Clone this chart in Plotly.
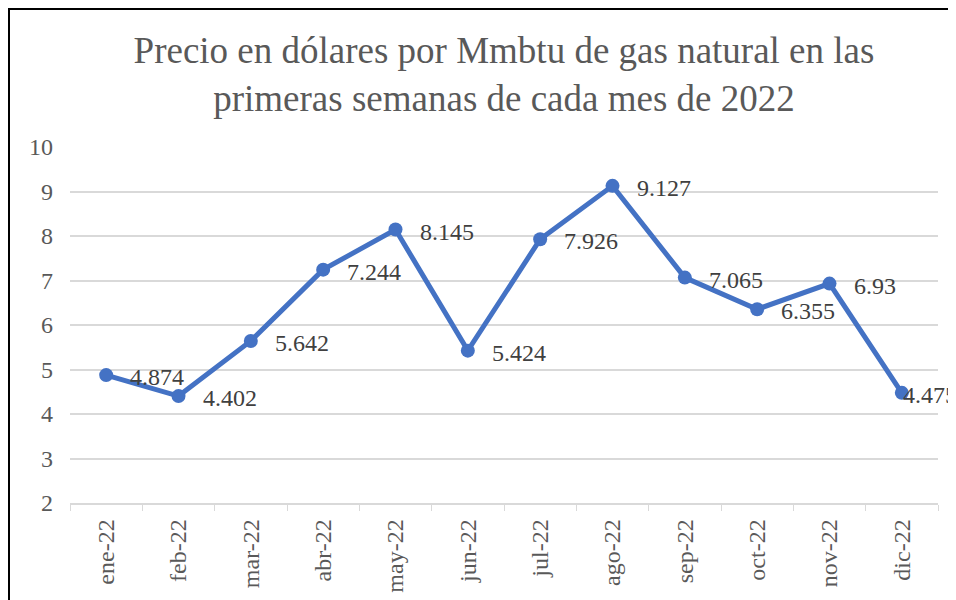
import plotly.graph_objects as go

categories = ["ene-22", "feb-22", "mar-22", "abr-22", "may-22", "jun-22",
              "jul-22", "ago-22", "sep-22", "oct-22", "nov-22", "dic-22"]
values = [4.874, 4.402, 5.642, 7.244, 8.145, 5.424, 7.926, 9.127, 7.065, 6.355, 6.93, 4.475]
labels = ["4.874", "4.402", "5.642", "7.244", "8.145", "5.424", "7.926", "9.127", "7.065", "6.355", "6.93", "4.475"]
y_ticks = [2, 3, 4, 5, 6, 7, 8, 9, 10]
title_text = "Precio en dólares por Mmbtu de gas natural en las<br>primeras semanas de cada mes de 2022"

FONT = "Liberation Serif, Times New Roman, serif"

fig = go.Figure()
fig.add_trace(go.Scatter(
    x=categories, y=values, mode="lines+markers",
    line=dict(color="#4472C4", width=5),
    marker=dict(color="#4472C4", size=14),
    cliponaxis=False, showlegend=False,
))

label_shift = [22] * 11 + [-1]
for c, v, t, s in zip(categories, values, labels, label_shift):
    fig.add_annotation(x=c, y=v, text=t, showarrow=False, xanchor="left", yanchor="middle",
                       xshift=s, yshift=-2,
                       font=dict(family=FONT, size=24, color="#404040"))

W, H = 956, 600
L, R, T, B = 62, 930, 139, 495

fig.update_layout(
    width=W, height=H,
    margin=dict(l=L, r=W - R, t=T, b=H - B),
    paper_bgcolor="white", plot_bgcolor="white",
    font=dict(family=FONT, color="#595959"),
    title=dict(text=title_text, x=0.5, xanchor="center", xref="paper",
               y=1 - 55 / H, yanchor="middle", yref="container",
               font=dict(family=FONT, size=37, color="#595959")),
    xaxis=dict(type="category", tickson="boundaries", ticks="outside", ticklen=6,
               tickcolor="#d9d9d9", showline=True, linecolor="#d9d9d9", linewidth=1.5,
               showgrid=False, tickangle=-90, ticklabelstandoff=5,
               tickfont=dict(family=FONT, size=24, color="#595959"),
               range=[-0.5, 11.5]),
    yaxis=dict(range=[2, 10], tickvals=y_ticks, showgrid=True, gridcolor="#d9d9d9",
               gridwidth=1.5, zeroline=False, showline=False, ticks="",
               tickfont=dict(family=FONT, size=24, color="#595959"), ticklabelstandoff=16),
    shapes=[
        dict(type="line", xref="paper", yref="paper",
             x0=(1 - L) / (R - L), x1=(1 - L) / (R - L), y0=(B - 0) / (B - T), y1=(B - H) / (B - T),
             line=dict(color="black", width=2)),
        dict(type="line", xref="paper", yref="paper",
             x0=(1 - L) / (R - L), x1=(W - L) / (R - L), y0=(B - 1) / (B - T), y1=(B - 1) / (B - T),
             line=dict(color="black", width=2)),
    ],
)

fig.write_html("out.html")
